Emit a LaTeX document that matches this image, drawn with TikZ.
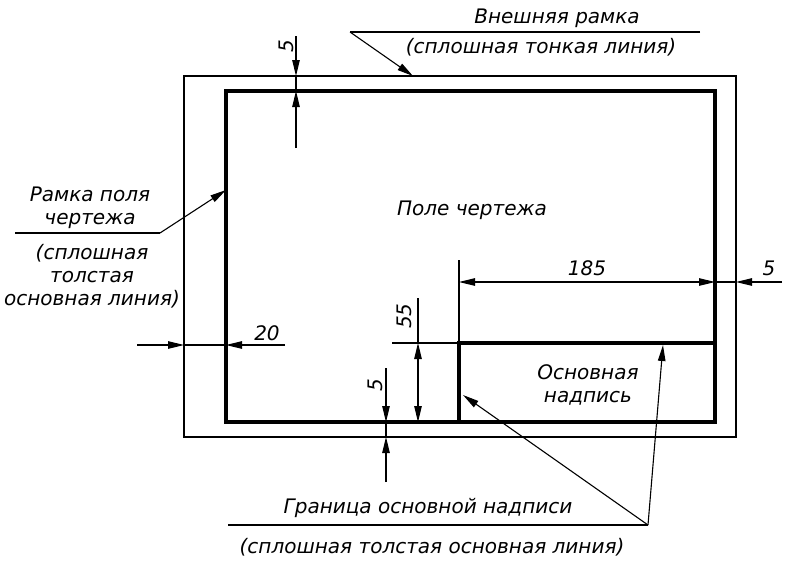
\documentclass[tikz,border=0pt]{standalone}
\usepackage{fontspec}
\setmainfont{DejaVu Sans}
\usetikzlibrary{arrows.meta, positioning}

\begin{document}
\begin{tikzpicture}[x=1pt, y=-1pt,
    thinline/.style={line width=1.1pt},
    thickline/.style={line width=3.5pt},
    dim/.style={line width=1.1pt, -{Triangle[length=16pt,width=7.5pt]}},
    dimboth/.style={line width=1.1pt, {Triangle[length=16pt,width=7.5pt]}-{Triangle[length=16pt,width=7.5pt]}},
    lbl/.style={font=\fontsize{20}{23}\selectfont\itshape, inner sep=0pt, align=center},
]
\useasboundingbox (0,0) rectangle (795,568);

\coordinate (o1) at (184,76);
\coordinate (o2) at (736,437);
\coordinate (i1) at (226,91);
\coordinate (i2) at (715,422);
\coordinate (t1) at (459,343);

\draw[thinline] (o1) rectangle (o2);
\draw[thickline] (i1) rectangle (i2);
\draw[thickline] (t1 |- i2) -- (t1) -- (i2 |- t1);

\node[lbl] (field) at (472,210) {Поле чертежа};
\node[lbl] (stamp) at (588,385) {Основная\\надпись};

% top leader
\coordinate (tl1) at (350,32);
\coordinate (tl2) at (700,32);
\coordinate (tl3) at (413,76);
\draw[thinline] (tl2) -- (tl1);
\draw[dim] (tl1) -- (tl3);
\node[lbl] (outer1) at (557,18) {Внешняя рамка};
\node[lbl] (outer2) at (541,47) {(сплошная тонкая линия)};

% left leader
\coordinate (ll1) at (15,233);
\coordinate (ll2) at (160,233);
\coordinate (ll3) at (226,190);
\draw[thinline] (ll1) -- (ll2);
\draw[dim] (ll2) -- (ll3);
\node[lbl, above=4pt of ll1, anchor=south, xshift=75pt] (frame1) {Рамка поля\\чертежа};
\node[lbl, below=11pt of ll1, anchor=north, xshift=77pt] (frame2) {(сплошная\\толстая\\основная линия)};

% bottom leader
\coordinate (bl1) at (228,525);
\coordinate (bl2) at (648,525);
\coordinate (bl3) at (463,395);
\coordinate (bl4) at (663,345);
\draw[thinline] (bl1) -- (bl2);
\draw[dim] (bl2) -- (bl3);
\draw[dim] (bl2) -- (bl4);
\node[lbl] (border1) at (428,508) {Граница основной надписи};
\node[lbl] (border2) at (432,547) {(сплошная толстая основная линия)};

% 5 at top
\coordinate (d1) at (296,36);
\coordinate (d2) at (296,148);
\draw[dim] (d1) -- (d1 |- o1);
\draw[dim] (d2) -- (d2 |- i1);
\draw[thinline] (d1 |- o1) -- (d2 |- i1);
\node[lbl, rotate=90] (top5) at (286,46) {5};

% 20 at left
\coordinate (e1) at (137,345);
\coordinate (e2) at (285,345);
\draw[dim] (e1) -- (o1 |- e1);
\draw[dim] (e2) -- (i1 |- e2);
\draw[thinline] (o1 |- e1) -- (i1 |- e2);
\node[lbl] (left20) at (267,333) {20};

% 185 and 5 at right
\coordinate (f1) at (459,260);
\coordinate (f2) at (459,282);
\coordinate (f3) at (782,282);
\draw[thinline] (f1) -- (t1);
\draw[dimboth] (f2) -- (i2 |- f2);
\draw[thinline] (i2 |- f2) -- (o2 |- f2);
\draw[dim] (f3) -- (o2 |- f3);
\node[lbl] (w185) at (587,268) {185};
\node[lbl] (right5) at (769,268) {5};

% 55
\coordinate (g1) at (418,298);
\coordinate (g2) at (392,343);
\draw[thinline] (g2) -- (t1);
\draw[thinline] (g1) -- (g1 |- t1);
\draw[dimboth] (g1 |- t1) -- (g1 |- i2);
\node[lbl, rotate=90] (h55) at (404,316) {55};

% 5 at bottom
\coordinate (h1) at (386,368);
\coordinate (h2) at (386,482);
\draw[dim] (h1) -- (h1 |- i2);
\draw[dim] (h2) -- (h2 |- o2);
\draw[thinline] (h1 |- i2) -- (h2 |- o2);
\node[lbl, rotate=90] (bottom5) at (375,385) {5};
\end{tikzpicture}
\end{document}
